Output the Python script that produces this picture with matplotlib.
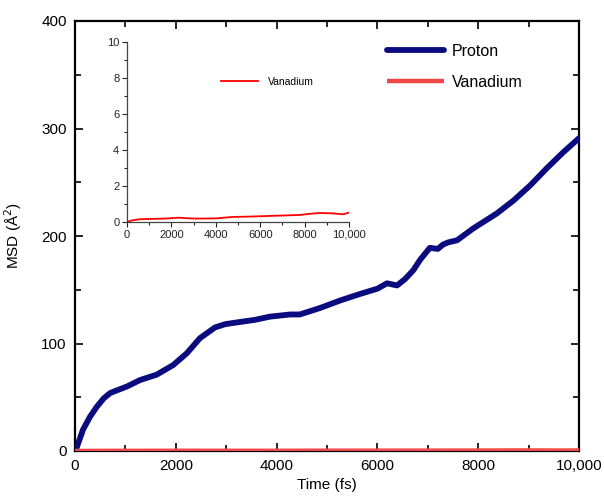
import matplotlib
matplotlib.use("Agg")
import matplotlib.pyplot as plt
from matplotlib.ticker import MultipleLocator, FuncFormatter

plt.rcParams['font.family'] = ['Liberation Sans', 'DejaVu Sans']

# Proton MSD (Å^2) vs time (fs)
proton_t = [0, 40, 160, 300, 430, 570, 700, 1030, 1290, 1620, 1950, 2220, 2480,
            2780, 2980, 3270, 3570, 3870, 4270, 4460, 4860, 5260, 5650, 6000,
            6190, 6390, 6550, 6710, 6850, 7040, 7200, 7300, 7400, 7580, 7900,
            8370, 8700, 9030, 9360, 9690, 10000]
proton_msd = [0, 4, 20, 32, 41, 49, 54, 60, 66, 71, 80, 91, 105,
              115, 118, 120, 122, 125, 127, 127, 133, 140, 146, 151,
              156, 154, 160, 168, 178, 189, 188, 192, 194, 196, 207,
              221, 233, 247, 263, 278, 291]

# Vanadium MSD (Å^2) vs time (fs)
vanadium_t = [0, 200, 530, 1000, 1730, 2340, 2800, 3240, 4000, 4750, 5500,
              6260, 7000, 7770, 8200, 8670, 9270, 9730, 10000]
vanadium_msd = [0, 0.08, 0.15, 0.17, 0.19, 0.24, 0.2, 0.19, 0.2, 0.28, 0.3,
                0.33, 0.36, 0.39, 0.45, 0.5, 0.48, 0.43, 0.52]

fig = plt.figure(figsize=(6.04, 4.96), dpi=100)
W, H = 604, 496
ax = fig.add_axes([75 / W, 1 - 451 / H, (579 - 75) / W, (451 - 21) / H])

navy = '#0b0b80'
red_main = '#f04848'

ax.plot(proton_t, proton_msd, color=navy, lw=4.2, label='Proton',
        solid_capstyle='round', solid_joinstyle='round', zorder=3)
ax.plot(vanadium_t, vanadium_msd, color=red_main, lw=3.2, label='Vanadium',
        solid_capstyle='butt', zorder=3)

ax.set_xlim(0, 10000)
ax.set_ylim(0, 400)
ax.xaxis.set_major_locator(MultipleLocator(2000))
ax.xaxis.set_minor_locator(MultipleLocator(1000))
ax.yaxis.set_major_locator(MultipleLocator(100))
ax.yaxis.set_minor_locator(MultipleLocator(50))
fmt = FuncFormatter(lambda v, p: '10,000' if v == 10000 else f'{int(v)}')
ax.xaxis.set_major_formatter(fmt)
ax.tick_params(which='both', direction='in', top=True, right=True,
               labelsize=11, width=1.2)
ax.tick_params(which='major', length=6, pad=6)
ax.tick_params(which='minor', length=4)
for s in ax.spines.values():
    s.set_linewidth(1.6)
ax.set_xlabel('Time (fs)', fontsize=11, labelpad=3)
ax.set_ylabel('MSD (Å$^2$)', fontsize=11, labelpad=12)

leg = ax.legend(loc='upper left', bbox_to_anchor=(0.59, 0.98), frameon=False,
                fontsize=11.5, handlelength=3.6, handletextpad=0.5,
                labelspacing=1.0)

# Inset
axi = fig.add_axes([127 / W, 1 - 222 / H, (349 - 127) / W, (222 - 42) / H])
axi.plot(vanadium_t, vanadium_msd, color='#ff0000', lw=1.3, label='Vanadium')
axi.set_xlim(0, 10000)
axi.set_ylim(0, 10)
axi.xaxis.set_major_locator(MultipleLocator(2000))
axi.xaxis.set_minor_locator(MultipleLocator(1000))
axi.yaxis.set_major_locator(MultipleLocator(2))
axi.yaxis.set_minor_locator(MultipleLocator(1))
axi.xaxis.set_major_formatter(fmt)
axi.spines['top'].set_visible(False)
axi.spines['right'].set_visible(False)
for s in ['left', 'bottom']:
    axi.spines[s].set_linewidth(0.9)
    axi.spines[s].set_color('#444444')
axi.tick_params(which='both', direction='out', labelsize=8, width=0.8,
                colors='#222222')
axi.tick_params(which='major', length=3.5, pad=2)
axi.tick_params(which='minor', length=2)
axi.patch.set_alpha(0)
axi.legend(loc='upper left', bbox_to_anchor=(0.38, 0.86), frameon=False,
           fontsize=7.5, handlelength=3.6, handletextpad=0.9)

fig.savefig('out.png', dpi=100)
